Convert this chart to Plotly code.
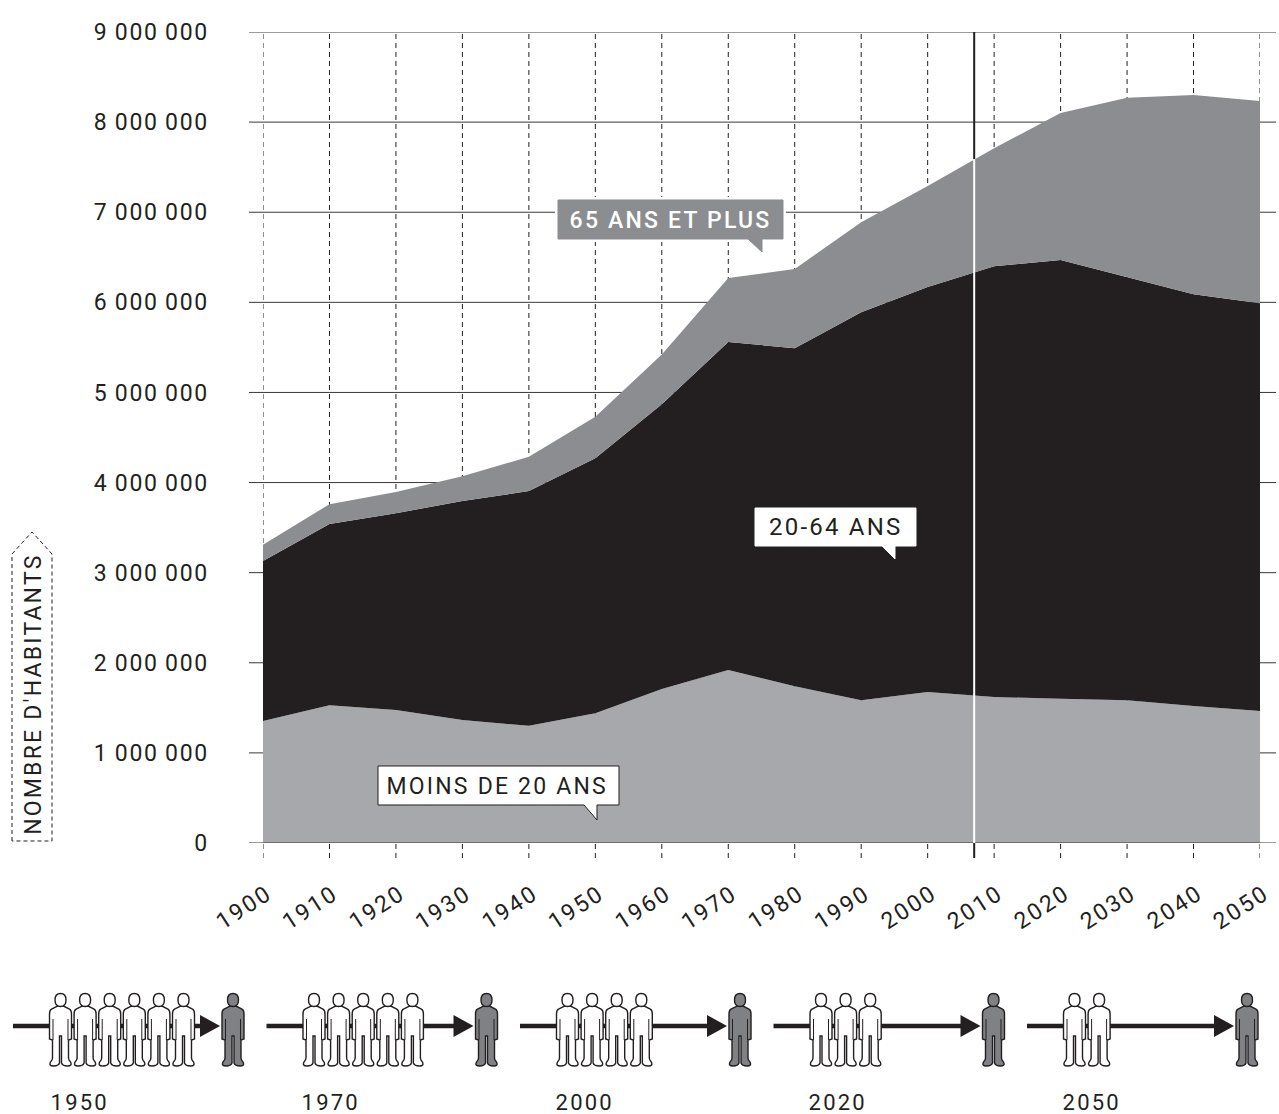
import plotly.graph_objects as go

years = [1900,1910,1920,1930,1940,1950,1960,1970,1980,1990,2000,2010,2020,2030,2040,2050]
under_20 = [1354000,1530000,1476000,1365000,1300000,1440000,1710000,1920000,1740000,1585000,1675000,1620000,1600000,1585000,1520000,1465000]
adults_20_64 = [1776000,2010000,2184000,2430000,2605000,2830000,3160000,3640000,3750000,4305000,4495000,4780000,4870000,4695000,4570000,4525000]
seniors_65 = [180000,220000,235000,275000,380000,460000,550000,710000,880000,1000000,1120000,1310000,1630000,1990000,2210000,2245000]

y_ticks = [0,1000000,2000000,3000000,4000000,5000000,6000000,7000000,8000000,9000000]
y_labels = ["0"] + [f"{m}\u2009000\u2009000" for m in range(1,10)]
marker_year = 2007
marker_level = 7590000

ratio_years = ["1950","1970","2000","2020","2050"]
ratio_workers = [6,5,4,3,2]

C_UNDER = "#a7a8ab"
C_ADULT = "#231f20"
C_SENIOR = "#8c8d90"
FONT = "Roboto"

W, H = 1279, 1114
L, R, T, B = 263, 1260, 32, 843

def px(x): return (x - L) / (R - L)
def py(y): return (B - y) / (B - T)

def path(cmds):
    """cmds: list of (letter, x1, y1, ...) in page pixels -> plotly path in paper fractions."""
    out = []
    for c in cmds:
        coords = c[1:]
        pairs = []
        for i in range(0, len(coords), 2):
            pairs.append(f"{px(coords[i]):.5f},{py(coords[i+1]):.5f}")
        out.append(c[0] + " ".join(pairs))
    return " ".join(out)

fig = go.Figure()
for name, vals, col in [("Moins de 20 ans", under_20, C_UNDER),
                        ("20-64 ans", adults_20_64, C_ADULT),
                        ("65 ans et plus", seniors_65, C_SENIOR)]:
    fig.add_trace(go.Scatter(x=years, y=vals, name=name, mode="lines", stackgroup="one",
                             line=dict(width=0, color=col), fillcolor=col, showlegend=False))

shapes = []
# Grid
for v in y_ticks:
    shapes.append(dict(type="line", xref="paper", yref="y", x0=px(249), x1=px(1276), y0=v, y1=v,
                       line=dict(color="#3a3738", width=1), layer="above" if v == 0 else "below"))
for yr in years:
    shapes.append(dict(type="line", xref="x", yref="paper", x0=yr, x1=yr, y0=py(858), y1=1,
                       line=dict(color="#231f20", width=1, dash="5px,4px"), layer="below"))
# Present-day marker
shapes.append(dict(type="line", xref="x", yref="y", x0=marker_year, x1=marker_year, y0=marker_level, y1=9000000,
                   line=dict(color="#231f20", width=2), layer="above"))
shapes.append(dict(type="line", xref="x", yref="y", x0=marker_year, x1=marker_year, y0=0, y1=marker_level,
                   line=dict(color="#ffffff", width=2), layer="above"))
shapes.append(dict(type="line", xref="x", yref="paper", x0=marker_year, x1=marker_year, y0=py(858), y1=0,
                   line=dict(color="#231f20", width=2), layer="above"))

def callout(x0, y0, x1, y1, tx0, tx1, ty, fill, edge, edge_w):
    shapes.append(dict(type="path", xref="paper", yref="paper", layer="above",
                       path=path([("M",x0,y0),("L",x1,y0),("L",x1,y1),("L",tx1,y1),("L",tx1,ty),("L",tx0,y1),("L",x0,y1),("Z",)]),
                       fillcolor=fill, line=dict(color=edge, width=edge_w)))

# White halo behind the grey callout interrupts the grid
shapes.append(dict(type="rect", xref="paper", yref="paper", layer="below",
                   x0=px(555), x1=px(786), y0=py(197), y1=py(242), fillcolor="#ffffff", line=dict(width=0)))
callout(558, 200, 783, 239, 748, 762, 252, C_SENIOR, C_SENIOR, 1)
callout(755, 508, 916, 546, 882, 895, 559, "#ffffff", "#ffffff", 1)
callout(378, 766, 619, 805, 584, 597, 820, "#ffffff", "#231f20", 1)

# Axis title box
shapes.append(dict(type="path", xref="paper", yref="paper", layer="above",
                   path=path([("M",12,841),("L",12,554),("L",32,532),("L",52,554),("L",52,841),("Z",)]),
                   line=dict(color="#231f20", width=1, dash="4px,3px")))

# Pictograms
def person(cx, top, fill):
    def p(*a):
        return tuple([a[0]] + [v + (cx if i % 2 == 0 else top) for i, v in enumerate(a[1:])])
    body = [p("M",-3,13), p("L",-9,16), p("Q",-11,17,-11,21), p("L",-11,46), p("L",-8,47), p("L",-8,65),
            p("Q",-8,67,-10,69), p("Q",-12,73,-7,73), p("Q",-2,73,-1,70), p("L",-1,43), p("L",1,43), p("L",1,70),
            p("Q",2,73,7,73), p("Q",12,73,10,69), p("Q",8,67,8,65), p("L",8,47), p("L",11,46), p("L",11,21),
            p("Q",11,17,9,16), p("L",3,13), ("Z",)]
    head = [p("M",-5.5,7), p("Q",-5.5,0.5,0,0.5), p("Q",5.5,0.5,5.5,7), p("Q",5.5,13.5,0,13.5), p("Q",-5.5,13.5,-5.5,7), ("Z",)]
    for part in (body, head):
        shapes.append(dict(type="path", xref="paper", yref="paper", layer="above", path=path(part),
                           fillcolor=fill, line=dict(color="#231f20", width=1.4)))
    for sx in (-7.5, 7.5):
        shapes.append(dict(type="path", xref="paper", yref="paper", layer="above",
                           path=path([p("M",sx,26), p("L",sx,47)]), line=dict(color="#231f20", width=1)))

annotations = []
def text(x, y, s, size=22, color="#231f20", angle=0, weight=None):
    f = dict(family=FONT, size=size, color=color)
    if weight:
        f["weight"] = weight
    annotations.append(dict(xref="paper", yref="paper", x=px(x), y=py(y), text=s, showarrow=False,
                            xanchor="center", yanchor="middle", textangle=angle, font=f))

for i, (label, n) in enumerate(zip(ratio_years, ratio_workers)):
    off = 253.5 * i
    shapes.append(dict(type="line", xref="paper", yref="paper", x0=px(13+off), x1=px(205+off), y0=py(1026), y1=py(1026),
                       line=dict(color="#231f20", width=4.5), layer="above"))
    shapes.append(dict(type="path", xref="paper", yref="paper", layer="above",
                       path=path([("M",200+off,1015),("L",220+off,1026),("L",200+off,1037),("Z",)]),
                       fillcolor="#231f20", line=dict(width=0)))
    for k in range(n):
        person(60.5 + off + 24.6*k, 993, "#ffffff")
    person(233 + off, 993, "#808184")
    text(79 + off - (2 if i else 0), 1102, label, size=22)

# Rotated year labels, anchored to the data axis
for yr in years:
    annotations.append(dict(xref="x", yref="paper", x=yr, y=py(907), xshift=-19, text=str(yr), showarrow=False,
                            xanchor="center", yanchor="middle", textangle=-33,
                            font=dict(family=FONT, size=23, color="#231f20")))

text(670, 220, "65 ANS ET PLUS", size=23, color="#ffffff", weight=500)
text(836, 527, "20-64 ANS", size=24)
text(497, 786, "MOINS DE 20 ANS", size=23)
text(33, 694, "NOMBRE D'HABITANTS", size=23, angle=-90)

fig.update_layout(
    width=W, height=H, autosize=False,
    margin=dict(l=L, r=W-R, t=T, b=H-B, pad=0, autoexpand=False),
    paper_bgcolor="#ffffff", plot_bgcolor="rgba(0,0,0,0)",
    shapes=shapes, annotations=annotations, showlegend=False,
    font=dict(family=FONT, color="#231f20"),
    xaxis=dict(range=[1900,2050], tickvals=years, showticklabels=False, automargin=False,
               showgrid=False, zeroline=False, showline=False, ticks=""),
    yaxis=dict(range=[0,9000000], tickvals=y_ticks, ticktext=y_labels, automargin=False,
               showgrid=False, zeroline=False, showline=False, ticks="", ticklabelstandoff=53,
               tickfont=dict(family=FONT, size=23, color="#231f20")),
)

post = """
document.body.style.margin='0';
document.documentElement.style.overflow='hidden';
var s=document.createElement('style');
s.textContent='.main-svg text{letter-spacing:2.2px;} .main-svg .ytick text{letter-spacing:1.7px;}';
document.head.appendChild(s);
window.dispatchEvent(new Event('resize'));
"""
fig.write_html("out.html", post_script=post, config=dict(displayModeBar=False))
